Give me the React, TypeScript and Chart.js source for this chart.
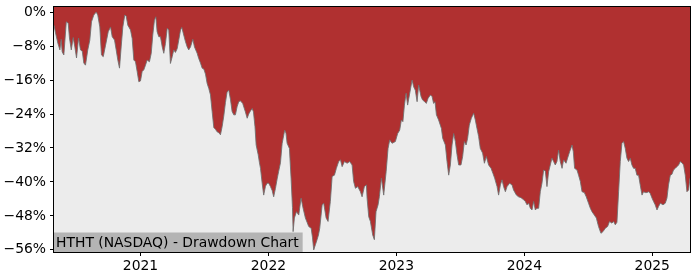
import React, { useEffect, useRef } from "react";
import { Chart, registerables } from "chart.js";

Chart.register(...registerables);

const TITLE = "HTHT (NASDAQ) - Drawdown Chart";
const yearTicks = [2021, 2022, 2023, 2024, 2025];
const pctTicks = [0, -8, -16, -24, -32, -40, -48, -56];
const yMin = -56.5;
const yMax = 1.2;

// decimal-year dates
const dates = [
  2020.324, 2020.336, 2020.354, 2020.370, 2020.380, 2020.388, 2020.401, 2020.420, 2020.435, 2020.445,
  2020.459, 2020.474, 2020.487, 2020.500, 2020.516, 2020.531, 2020.545, 2020.557, 2020.570, 2020.588,
  2020.604, 2020.617, 2020.635, 2020.654, 2020.666, 2020.682, 2020.695, 2020.709, 2020.727, 2020.748,
  2020.766, 2020.779, 2020.797, 2020.810, 2020.823, 2020.836, 2020.849, 2020.862, 2020.877, 2020.888,
  2020.901, 2020.922, 2020.935, 2020.948, 2020.961, 2020.974, 2020.987, 2021.000, 2021.013, 2021.026,
  2021.039, 2021.052, 2021.070, 2021.084, 2021.096, 2021.109, 2021.120, 2021.130, 2021.143, 2021.156,
  2021.170, 2021.182, 2021.195, 2021.209, 2021.221, 2021.234, 2021.248, 2021.260, 2021.273, 2021.287,
  2021.299, 2021.313, 2021.323, 2021.338, 2021.352, 2021.365, 2021.377, 2021.391, 2021.409, 2021.422,
  2021.443, 2021.455, 2021.469, 2021.482, 2021.495, 2021.508, 2021.521, 2021.534, 2021.547, 2021.560,
  2021.573, 2021.586, 2021.599, 2021.612, 2021.625, 2021.638, 2021.651, 2021.664, 2021.677, 2021.690,
  2021.703, 2021.716, 2021.729, 2021.742, 2021.755, 2021.768, 2021.781, 2021.799, 2021.820, 2021.834,
  2021.846, 2021.859, 2021.873, 2021.883, 2021.895, 2021.904, 2021.920, 2021.930, 2021.938, 2021.951,
  2021.963, 2021.977, 2021.990, 2022.002, 2022.016, 2022.029, 2022.041, 2022.055, 2022.068, 2022.080,
  2022.094, 2022.107, 2022.115, 2022.127, 2022.137, 2022.146, 2022.164, 2022.177, 2022.188, 2022.193,
  2022.203, 2022.219, 2022.237, 2022.255, 2022.271, 2022.289, 2022.302, 2022.315, 2022.334, 2022.344,
  2022.354, 2022.367, 2022.380, 2022.391, 2022.401, 2022.420, 2022.432, 2022.451, 2022.466, 2022.484,
  2022.498, 2022.516, 2022.531, 2022.549, 2022.563, 2022.576, 2022.594, 2022.615, 2022.635, 2022.654,
  2022.666, 2022.680, 2022.698, 2022.719, 2022.732, 2022.750, 2022.766, 2022.771, 2022.784, 2022.797,
  2022.815, 2022.828, 2022.841, 2022.857, 2022.867, 2022.883, 2022.901, 2022.920, 2022.935, 2022.948,
  2022.966, 2022.992, 2023.010, 2023.026, 2023.039, 2023.051, 2023.063, 2023.076, 2023.088, 2023.102,
  2023.123, 2023.135, 2023.148, 2023.162, 2023.174, 2023.193, 2023.205, 2023.221, 2023.234, 2023.248,
  2023.266, 2023.279, 2023.291, 2023.302, 2023.313, 2023.330, 2023.352, 2023.362, 2023.383, 2023.396,
  2023.409, 2023.422, 2023.435, 2023.448, 2023.461, 2023.474, 2023.487, 2023.505, 2023.518, 2023.531,
  2023.545, 2023.557, 2023.570, 2023.586, 2023.604, 2023.617, 2023.630, 2023.643, 2023.656, 2023.674,
  2023.688, 2023.703, 2023.721, 2023.740, 2023.755, 2023.768, 2023.787, 2023.799, 2023.813, 2023.826,
  2023.838, 2023.852, 2023.865, 2023.885, 2023.904, 2023.916, 2023.938, 2023.955, 2023.974, 2023.995,
  2024.008, 2024.021, 2024.034, 2024.047, 2024.060, 2024.073, 2024.086, 2024.099, 2024.112, 2024.125,
  2024.138, 2024.151, 2024.164, 2024.177, 2024.190, 2024.203, 2024.216, 2024.229, 2024.242, 2024.255,
  2024.268, 2024.281, 2024.295, 2024.307, 2024.326, 2024.338, 2024.354, 2024.373, 2024.383, 2024.393,
  2024.412, 2024.424, 2024.438, 2024.451, 2024.469, 2024.484, 2024.502, 2024.516, 2024.529, 2024.547,
  2024.563, 2024.580, 2024.599, 2024.615, 2024.633, 2024.651, 2024.666, 2024.685, 2024.698, 2024.711,
  2024.724, 2024.737, 2024.750, 2024.763, 2024.776, 2024.789, 2024.802, 2024.815, 2024.828, 2024.841,
  2024.854, 2024.867, 2024.880, 2024.893, 2024.906, 2024.920, 2024.932, 2024.945, 2024.959, 2024.971,
  2024.984, 2024.998, 2025.010, 2025.023, 2025.037, 2025.049, 2025.063, 2025.084, 2025.102, 2025.115,
  2025.127, 2025.141, 2025.154, 2025.166, 2025.180, 2025.193, 2025.206, 2025.219, 2025.232, 2025.245,
  2025.258, 2025.271, 2025.284, 2025.295,
];

// drawdown in percent
const drawdown = [
  -3.1, -4.9, -7.3, -8.9, -6.4, -9.4, -10.1, -2.3, -2.6, -6.1,
  -8.9, -6.0, -8.2, -10.8, -6.1, -8.9, -9.2, -12.0, -12.5, -8.9,
  -6.6, -2.3, -0.7, 0.0, -0.7, -3.5, -10.1, -10.5, -7.8, -4.6,
  -3.5, -5.8, -6.6, -8.9, -11.3, -13.2, -8.2, -3.5, -0.7, -0.9,
  -3.1, -4.2, -6.2, -11.3, -11.7, -14.0, -16.4, -16.2, -14.0, -13.6,
  -12.5, -11.3, -11.7, -9.7, -5.4, -1.9, -1.1, -4.6, -5.8, -5.8,
  -8.2, -9.7, -7.4, -3.8, -4.2, -12.1, -10.5, -8.9, -9.5, -8.6,
  -6.6, -4.2, -3.6, -5.4, -7.0, -8.2, -8.9, -8.2, -6.4, -8.2,
  -9.7, -10.9, -12.0, -13.2, -13.4, -14.6, -16.8, -18.0, -19.5, -23.4,
  -27.2, -27.6, -28.2, -28.4, -28.9, -27.0, -24.5, -21.3, -18.8, -18.4,
  -20.5, -23.4, -24.2, -24.2, -22.3, -21.1, -20.9, -21.5, -23.5, -25.0,
  -24.0, -23.3, -22.7, -23.5, -27.0, -31.3, -33.6, -35.5, -36.8, -40.3,
  -43.1, -41.0, -40.3, -40.3, -41.1, -42.0, -43.5, -41.5, -39.3, -37.5,
  -35.5, -31.0, -29.7, -27.8, -28.5, -30.9, -32.1, -39.1, -46.0, -51.7,
  -48.5, -47.0, -47.8, -43.8, -46.2, -48.5, -49.5, -50.5, -50.9, -53.0,
  -56.0, -54.8, -53.6, -52.5, -50.9, -45.4, -45.0, -48.5, -49.3, -44.6,
  -38.7, -38.4, -36.8, -35.2, -34.8, -36.4, -35.2, -35.6, -35.2, -36.0,
  -39.9, -41.5, -41.1, -42.3, -43.5, -41.1, -40.7, -43.8, -48.2, -49.3,
  -52.5, -53.6, -47.0, -45.4, -43.5, -39.1, -43.1, -37.6, -32.1, -30.1,
  -30.9, -30.5, -28.6, -27.8, -25.4, -25.8, -21.9, -19.1, -21.9, -19.5,
  -16.0, -17.6, -18.4, -21.1, -17.2, -19.9, -20.7, -21.1, -21.5, -20.3,
  -19.5, -19.9, -21.5, -21.1, -24.2, -25.4, -27.4, -29.7, -31.3, -35.2,
  -38.4, -36.0, -31.3, -28.6, -30.5, -33.6, -36.0, -36.0, -34.0, -30.5,
  -31.3, -29.7, -26.6, -25.0, -23.8, -25.4, -27.4, -29.3, -32.1, -33.2,
  -35.6, -34.0, -36.0, -36.8, -38.0, -39.1, -41.1, -43.1, -40.7, -39.5,
  -41.1, -42.3, -41.1, -40.3, -40.7, -41.9, -43.1, -43.5, -43.7, -44.2,
  -44.6, -45.4, -45.0, -46.2, -46.6, -44.6, -46.6, -46.2, -46.2, -42.3,
  -40.3, -37.2, -37.4, -41.1, -37.6, -36.0, -34.4, -35.2, -36.0, -35.2,
  -32.5, -35.2, -36.8, -34.8, -35.6, -34.4, -32.9, -31.3, -32.9, -36.8,
  -37.2, -38.4, -39.9, -42.3, -42.5, -43.5, -45.0, -46.2, -47.0, -47.8,
  -48.5, -50.5, -52.1, -51.7, -50.9, -50.5, -49.3, -49.7, -49.3, -50.1,
  -49.5, -42.3, -35.2, -30.9, -30.5, -32.1, -34.4, -35.2, -34.4, -36.0,
  -36.8, -36.8, -38.4, -38.4, -40.7, -43.1, -42.3, -42.5, -42.5, -42.3,
  -42.7, -43.8, -44.6, -45.4, -46.6, -45.8, -45.0, -45.4, -45.0, -43.8,
  -40.7, -38.4, -38.2, -37.2, -36.8, -36.4, -36.0, -35.2, -35.5, -36.0,
  -38.4, -42.3, -41.9, -39.1,
];

const FONT = "DejaVu Sans";

export default function App() {
  const ref = useRef<HTMLCanvasElement | null>(null);

  useEffect(() => {
    if (!ref.current) return;
    const points = dates.map((d, i) => ({ x: d, y: drawdown[i] }));

    const decor = {
      id: "decor",
      beforeDraw(chart: any) {
        const { ctx, chartArea: a } = chart;
        ctx.save();
        ctx.fillStyle = "#ffffff";
        ctx.fillRect(0, 0, chart.width, chart.height);
        ctx.fillStyle = "#ececec";
        ctx.fillRect(a.left, a.top, a.right - a.left, a.bottom - a.top);
        ctx.restore();
      },
      afterDatasetsDraw(chart: any) {
        const { ctx, chartArea: a } = chart;
        ctx.save();
        ctx.font = `13.9px "${FONT}"`;
        const w = ctx.measureText(TITLE).width;
        const boxH = 19.5;
        ctx.fillStyle = "#b4b4b4";
        ctx.fillRect(a.left, a.bottom - boxH, w + 6, boxH);
        ctx.fillStyle = "#000";
        ctx.textBaseline = "alphabetic";
        ctx.textAlign = "left";
        ctx.fillText(TITLE, a.left + 2, a.bottom - 4.8);
        ctx.strokeStyle = "#000";
        ctx.lineWidth = 1;
        ctx.strokeRect(
          Math.round(a.left) - 0.5,
          Math.round(a.top) - 0.5,
          Math.round(a.right - a.left) + 1,
          Math.round(a.bottom - a.top) + 1
        );
        ctx.restore();
      },
    };

    const chart = new Chart(ref.current, {
      type: "line",
      data: {
        datasets: [
          {
            data: points,
            borderColor: "rgba(110,110,110,0.85)",
            borderWidth: 1,
            backgroundColor: "#b03030",
            fill: "end",
            pointRadius: 0,
            tension: 0,
          },
        ],
      },
      options: {
        responsive: false,
        animation: false,
        events: [],
        layout: { padding: { top: 7, right: 10, left: 0, bottom: 0 } },
        plugins: {
          legend: { display: false },
          tooltip: { enabled: false },
        },
        scales: {
          x: {
            type: "linear",
            min: dates[0],
            max: dates[dates.length - 1],
            afterBuildTicks: (scale: any) => {
              scale.ticks = yearTicks.map((v) => ({ value: v }));
            },
            afterFit: (scale: any) => {
              scale.height = 28;
              scale.paddingLeft = 0;
              scale.paddingRight = 0;
            },
            ticks: {
              autoSkip: false,
              maxRotation: 0,
              padding: 2,
              color: "#000",
              font: { family: FONT, size: 13.9 },
              callback: (v: any) => String(v),
            },
            grid: {
              display: true,
              drawOnChartArea: false,
              drawTicks: true,
              tickLength: 4,
              tickColor: "#000",
              tickWidth: 1,
            },
            border: { display: false },
          },
          y: {
            type: "linear",
            min: yMin,
            max: yMax,
            afterBuildTicks: (scale: any) => {
              scale.ticks = pctTicks.map((v) => ({ value: v }));
            },
            afterFit: (scale: any) => {
              scale.width = 54;
              scale.paddingTop = 0;
              scale.paddingBottom = 0;
            },
            ticks: {
              autoSkip: false,
              padding: 4,
              color: "#000",
              font: { family: FONT, size: 13.9 },
              callback: (v: any) =>
                (v === 0 ? "0" : "\u2212" + Math.abs(v)) + "%",
            },
            grid: {
              display: true,
              drawOnChartArea: false,
              drawTicks: true,
              tickLength: 4,
              tickColor: "#000",
              tickWidth: 1,
            },
            border: { display: false },
          },
        },
      },
      plugins: [decor],
    } as any);

    return () => chart.destroy();
  }, []);

  return (
    <div style={{ position: "fixed", left: 0, top: 0, width: 700, height: 280 }}>
      <canvas ref={ref} width={700} height={280} style={{ display: "block" }} />
    </div>
  );
}
